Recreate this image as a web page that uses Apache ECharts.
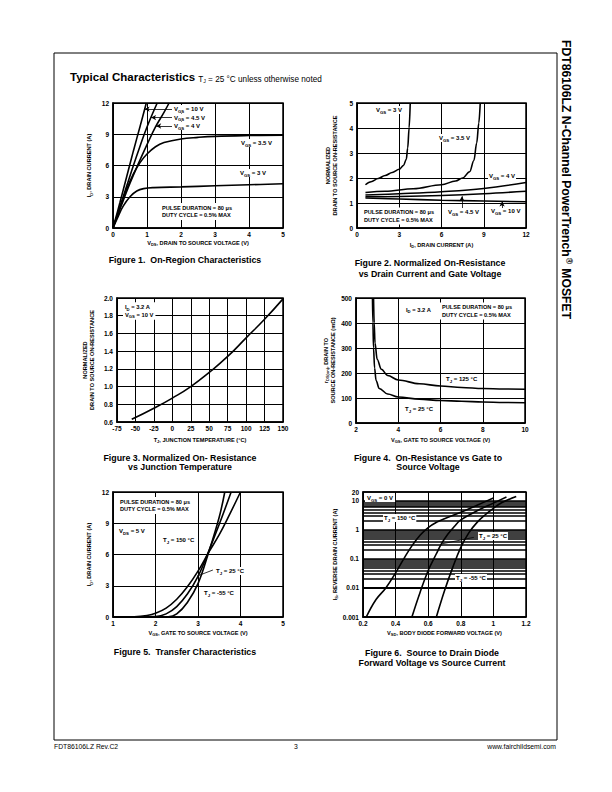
<!DOCTYPE html>
<html><head><meta charset="utf-8">
<script src="https://cdn.jsdelivr.net/npm/echarts@6/dist/echarts.min.js"></script>
<style>html,body{margin:0;padding:0;background:#fff}#c{width:612px;height:792px}</style>
</head><body><div id="c"></div>
<script>
// ---------- DATA ----------
// Figure 1: On-Region Characteristics (VDS [V], ID [A])
const fig1Vgs10 = [[0,0],[0.2,2.4],[0.4,4.9],[0.6,7.4],[0.8,9.8],[0.98,12]];
const fig1Vgs45 = [[0,0],[0.2,2.0],[0.4,4.0],[0.6,6.0],[0.8,7.9],[1.0,9.7],[1.3,12]];
const fig1Vgs4  = [[0,0],[0.25,2.2],[0.5,4.3],[0.75,6.2],[1.0,8.0],[1.25,9.7],[1.5,11.1],[1.65,12]];
const fig1Vgs35 = [[0,0],[0.2,1.9],[0.4,3.7],[0.6,5.2],[0.8,6.3],[1.0,7.1],[1.25,7.8],[1.5,8.2],[2,8.55],[2.5,8.7],[3,8.8],[4,8.88],[5,8.92]];
const fig1Vgs3  = [[0,0],[0.15,1.1],[0.3,2.1],[0.5,3.0],[0.7,3.55],[0.9,3.78],[1.2,3.88],[2,3.95],[3,4.05],[4,4.15],[5,4.25]];
// Figure 2: Normalized On-Resistance vs ID
const fig2Vgs3  = [[0.6,1.73],[1,1.85],[1.5,1.98],[2,2.1],[2.5,2.22],[3,2.35],[3.3,2.5],[3.5,2.75],[3.6,3.2],[3.7,4.0],[3.78,5]];
const fig2Vgs35 = [[0.6,1.42],[2,1.47],[4,1.57],[6,1.73],[7,1.88],[7.5,2.0],[8,2.25],[8.3,2.7],[8.5,3.4],[8.65,4.2],[8.75,5]];
const fig2Vgs4  = [[0.6,1.32],[3,1.37],[6,1.45],[9,1.58],[12,1.82]];
const fig2Vgs45 = [[0.6,1.25],[3,1.26],[6,1.3],[9,1.37],[12,1.47]];
const fig2Vgs10 = [[0.6,1.2],[3,1.16],[6,1.11],[9,1.08],[12,1.05]];
// Figure 3: Normalized On-Resistance vs TJ
const fig3Curve = [[-55,0.63],[-25,0.755],[0,0.87],[25,1.0],[50,1.16],[75,1.34],[100,1.55],[125,1.76],[150,1.99]];
// Figure 4: rDS(on) [mOhm] vs VGS
const fig4Tj125 = [[2.83,500],[2.86,400],[2.9,320],[3.0,255],[3.2,215],[3.5,190],[4,172],[5,157],[6,148],[7,142],[8,138],[9,136],[10,135]];
const fig4Tj25  = [[2.78,500],[2.8,400],[2.83,300],[2.88,220],[2.95,170],[3.1,138],[3.5,116],[4,104],[5,95],[6,90],[7,87],[8,84],[9,82],[10,81]];
// Figure 5: Transfer characteristics
const fig5Tj150 = [[1,0],[1.5,0.03],[1.8,0.15],[2,0.35],[2.25,0.85],[2.5,1.7],[2.75,2.9],[3,4.4],[3.25,6.2],[3.5,7.9],[3.75,9.9],[4.0,12]];
const fig5Tj25  = [[1,0],[2,0.05],[2.25,0.3],[2.5,1.0],[2.75,2.2],[3,3.9],[3.25,6.3],[3.5,8.9],[3.78,12]];
const fig5TjM55 = [[1,0],[2.3,0.03],[2.5,0.3],[2.75,1.4],[3,3.2],[3.25,6.2],[3.5,9.6],[3.63,12]];
// Figure 6: Body diode forward voltage
const fig6Tj150 = [[0.22,0.001],[0.28,0.004],[0.34,0.01],[0.4,0.033],[0.45,0.1],[0.5,0.28],[0.55,0.65],[0.6,1.2],[0.65,1.8],[0.7,2.4],[0.8,4],[0.9,7],[1.0,12.5]];
const fig6Tj25  = [[0.5,0.001],[0.55,0.007],[0.6,0.04],[0.65,0.15],[0.68,0.32],[0.72,0.7],[0.76,1.3],[0.8,2.2],[0.9,4.5],[1.0,8.3],[1.08,13.5]];
const fig6TjM55 = [[0.65,0.001],[0.7,0.008],[0.75,0.05],[0.8,0.25],[0.85,0.8],[0.9,1.8],[0.95,3.3],[1.0,5.5],[1.05,8.5],[1.14,14]];
const fig6YTicks = [0.001,0.01,0.1,1,10,20];
const fig6YTickText = ['0.001','0.01','0.1','1','10','20'];
const fig6MinorGrid = [0.002,0.003,0.004,0.005,0.006,0.007,0.008,0.009,0.02,0.03,0.04,0.05,0.06,0.07,0.08,0.09,0.2,0.3,0.4,0.5,0.6,0.7,0.8,0.9,2,3,4,5,6,7,8,9];

// ---------- STYLE HELPERS ----------
const F = '"Liberation Sans", Arial, Helvetica, sans-serif';
function rich(fs){
  return {
    n:{fontSize:fs, fontWeight:'bold', fontFamily:F, color:'#000', lineHeight:fs+2},
    s:{fontSize:Math.round(fs*0.72*10)/10, fontWeight:'bold', fontFamily:F, color:'#000', lineHeight:fs*0.72, verticalAlign:'bottom'}
  };
}
function sb(m, s, r){ return '{n|'+m+'}{s|'+s+'}{n|'+r+'}'; }
function nn(t){ return '{n|'+t+'}'; }

const grids = [
  {left:113, top:103, width:170, height:125},
  {left:357, top:103, width:169, height:125},
  {left:117, top:298, width:166, height:124},
  {left:356, top:298, width:169, height:125},
  {left:113, top:492, width:170, height:125},
  {left:363, top:492, width:163, height:125}
].map(g => Object.assign({show:true, borderColor:'#000', borderWidth:1.5, backgroundColor:'transparent', outerBoundsMode:'none'}, g));

function ax(gi, min, max, interval, name, gap, isY, extra){
  const o = {
    type:'value', gridIndex:gi, min, max, interval,
    name, nameLocation:'middle', nameGap:gap,
    nameTextStyle:{rich:rich(5.6), fontSize:5.6, fontWeight:'bold', fontFamily:F, color:'#000', lineHeight:7.5},
    axisLine:{show:true, onZero:false, lineStyle:{color:'#000', width:1.5}},
    axisTick:{show:false},
    axisLabel:{show:true, fontSize:6.5, fontWeight:'bold', fontFamily:F, color:'#000', margin:isY?4:3, showMinLabel:true, showMaxLabel:true},
    splitLine:{show:true, lineStyle:{color:'#000', width:1}},
    silent:true
  };
  if (isY) o.nameRotate = 90;
  return Object.assign(o, extra||{});
}

const xAxes = [
  ax(0,0,5,1, sb('V','DS',', DRAIN TO SOURCE VOLTAGE (V)'), 11, false),
  ax(1,0,12,3, sb('I','D',', DRAIN CURRENT (A)'), 13, false),
  ax(2,-75,150,25, sb('T','J',', JUNCTION TEMPERATURE (°C)'), 14, false),
  ax(3,2,10,2, sb('V','GS',', GATE TO SOURCE VOLTAGE (V)'), 13, false),
  ax(4,1,5,1, sb('V','GS',', GATE TO SOURCE VOLTAGE (V)'), 12, false),
  ax(5,0.2,1.2,0.2, sb('V','SD',', BODY DIODE FORWARD VOLTAGE (V)'), 12, false,
     {axisLabel:{show:true, fontSize:6.5, fontWeight:'bold', fontFamily:F, color:'#000', margin:3, showMinLabel:true, showMaxLabel:true, formatter:v=>String(Math.round(v*10)/10)}})
];
const yAxes = [
  ax(0,0,12,3, sb('I','D',', DRAIN CURRENT (A)'), 20, true),
  ax(1,0,5,1, nn('NORMALIZED')+'\n'+nn('DRAIN TO SOURCE ON-RESISTANCE'), 18, true),
  ax(2,0.6,2.0,0.2, nn('NORMALIZED')+'\n'+nn('DRAIN TO SOURCE ON-RESISTANCE'), 21, true,
     {axisLabel:{show:true, fontSize:6.5, fontWeight:'bold', fontFamily:F, color:'#000', margin:4, showMinLabel:true, showMaxLabel:true, formatter:v=>v.toFixed(1)}}),
  ax(3,0,500,100, sb('r','DS(on)',', DRAIN TO')+'\n'+nn('SOURCE ON-RESISTANCE (mΩ)'), 16, true),
  ax(4,0,12,3, sb('I','D',', DRAIN CURRENT (A)'), 20, true),
  ax(5,0.001,20,null, sb('I','S',', REVERSE DRAIN CURRENT (A)'), 22, true, {
     type:'log', logBase:10, interval:undefined,
     axisLabel:{show:true, fontSize:6.5, fontWeight:'bold', fontFamily:F, color:'#000', margin:4,
       customValues:fig6YTicks,
       formatter:function(v){ const i = fig6YTicks.findIndex(t => Math.abs(Math.log10(t)-Math.log10(v))<1e-6); return i>=0 ? fig6YTickText[i] : ''; }},
     splitLine:{show:true, lineStyle:{color:'#000', width:1.5}}
  })
];

function line(gi, data, extra){
  return Object.assign({type:'line', xAxisIndex:gi, yAxisIndex:gi, data, showSymbol:false, symbol:'none',
    smooth:0.4, lineStyle:{color:'#000', width:1.6}, itemStyle:{color:'#000'},
    silent:true, z:3, animation:false, emphasis:{disabled:true}}, extra||{});
}
const MONO = {smooth:0.35, smoothMonotone:'x'};
function arrows(pairs, withHead){
  return {silent:true, animation:false, z:4, symbol: withHead ? ['none','arrow'] : ['none','none'], symbolSize:[4,5],
    label:{show:false}, emphasis:{disabled:true},
    lineStyle:{color:'#000', width:0.8, type:'solid'},
    data: pairs.map(p => [{coord:p[0]},{coord:p[1]}])};
}

const series = [
  line(0, fig1Vgs10, {markLine: arrows([[[1.735,11.42],[0.93,11.42]],[[1.735,10.6],[1.12,10.6]],[[1.735,9.79],[1.27,9.79]]], true)}),
  line(0, fig1Vgs45), line(0, fig1Vgs4), line(0, fig1Vgs35), line(0, fig1Vgs3),
  line(1, fig2Vgs3, MONO), line(1, fig2Vgs35, MONO), line(1, fig2Vgs4), line(1, fig2Vgs45),
  line(1, fig2Vgs10, {markLine: arrows([[[7.45,0.8],[7.45,1.27]],[[10.3,0.8],[10.3,1.06]]], true)}),
  line(2, fig3Curve, {smooth:0.5}),
  line(3, fig4Tj125, MONO), line(3, fig4Tj25, MONO),
  line(4, fig5Tj150), line(4, fig5Tj25, {markLine: arrows([[[3.35,4.51],[2.98,3.93]]], false)}), line(4, fig5TjM55),
  // minor log grid of figure 6 (drawn beneath the labels)
  line(5, [], {z:1, markLine:{z:1, silent:true, animation:false, symbol:['none','none'], label:{show:false}, emphasis:{disabled:true},
     lineStyle:{color:'#000', width:1.5, type:'solid'}, data: fig6MinorGrid.map(v=>({yAxis:v}))}}),
  line(5, fig6Tj150),
  line(5, fig6Tj25, {markLine: arrows([[[0.88,0.55],[0.685,0.33]]], false)}),
  line(5, fig6TjM55)
];

// ---------- TEXT ----------
function T(x, y, text, fs, o){
  o = o || {};
  const st = {text, rich:rich(fs), fill:'#000', fontSize:fs, fontWeight:o.w||'bold', fontFamily:F,
    align:o.align||'left', verticalAlign:'middle'};
  if (o.bg) { st.backgroundColor = '#fff'; st.padding = o.pad || [1,2]; }
  const e = {type:'text', x, y, z:o.z||2, silent:true, style:st};
  return e;
}
const g = [];
// page frame, title, side text, footer
g.push({type:'rect', shape:{x:54, y:53, width:503, height:687}, style:{fill:'none', stroke:'#000', lineWidth:1}, silent:true, z:0});
g.push({type:'text', x:70, y:77, silent:true, z:2, style:{
  text:'{t|Typical Characteristics }{a|T}{b|J}{a| = 25 °C unless otherwise noted}', align:'left', verticalAlign:'middle',
  rich:{
    t:{fontSize:11.5, fontWeight:'bold', fontFamily:F, color:'#000', lineHeight:13},
    a:{fontSize:8.2, fontFamily:F, color:'#000', lineHeight:13, verticalAlign:'bottom'},
    b:{fontSize:5.2, fontFamily:F, color:'#000', lineHeight:5, verticalAlign:'bottom'}
  }}});
g.push({type:'text', x:566, y:40, rotation:-Math.PI/2, silent:true, z:2,
  style:{text:'{m|FDT86106LZ N-Channel PowerTrench}{r|®}{m| MOSFET}', align:'left', verticalAlign:'middle',
    rich:{m:{fontSize:12.2, fontWeight:'bold', fontFamily:F, color:'#000', lineHeight:14},
          r:{fontSize:8.5, fontWeight:'bold', fontFamily:F, color:'#000', verticalAlign:'top', lineHeight:14, padding:[0,1,0,1]}}}});
const foot = (x,t,al) => g.push({type:'text', x, y:746, silent:true, z:2, style:{text:t, fill:'#000', fontSize:6.8, fontFamily:F, align:al, verticalAlign:'middle'}});
foot(54, 'FDT86106LZ Rev.C2', 'left');
foot(296, '3', 'center');
foot(556, 'www.fairchildsemi.com', 'right');

// Figure 1 annotations
g.push(T(173, 109, sb('V','GS',' = 10 V'), 6, {bg:true, pad:[0,1]}));
g.push(T(173, 117.5, sb('V','GS',' = 4.5 V'), 6, {bg:true, pad:[0,1]}));
g.push(T(173, 126, sb('V','GS',' = 4 V'), 6, {bg:true, pad:[0,1]}));
g.push(T(240, 143, sb('V','GS',' = 3.5 V'), 6, {bg:true, pad:[0,1]}));
g.push(T(239, 173, sb('V','GS',' = 3 V'), 6, {bg:true, pad:[0,1]}));
g.push(T(160, 211.5, nn('PULSE DURATION = 80 μs')+'\n'+nn('DUTY CYCLE = 0.5% MAX'), 5.6, {bg:true, pad:[1,2]}));
// Figure 2 annotations
g.push(T(375, 110, sb('V','GS',' = 3 V'), 6, {bg:true, pad:[0,1]}));
g.push(T(438, 138, sb('V','GS',' = 3.5 V'), 6, {bg:true, pad:[0,1]}));
g.push(T(488, 176, sb('V','GS',' = 4 V'), 6, {bg:true, pad:[0,1]}));
g.push(T(362, 216, nn('PULSE DURATION = 80 μs')+'\n'+nn('DUTY CYCLE = 0.5% MAX'), 5.6, {bg:true, pad:[1,2]}));
g.push(T(447, 212, sb('V','GS',' = 4.5 V'), 6, {bg:true, pad:[0,1]}));
g.push(T(490, 211, sb('V','GS',' = 10 V'), 6, {bg:true, pad:[0,1]}));
// Figure 3 annotations
g.push(T(123, 311, sb('I','D',' = 3.2 A')+'\n'+sb('V','GS',' = 10 V'), 5.8, {bg:true, pad:[1,2]}));
// Figure 4 annotations
g.push(T(405, 310, sb('I','D',' = 3.2 A'), 5.8, {bg:true, pad:[0,1]}));
g.push(T(440, 311, nn('PULSE DURATION = 80 μs')+'\n'+nn('DUTY CYCLE = 0.5% MAX'), 5.6, {bg:true, pad:[1,2]}));
g.push(T(445, 379, sb('T','J',' = 125 °C'), 6, {bg:true, pad:[0,1]}));
g.push(T(404, 409, sb('T','J',' = 25 °C'), 6, {bg:true, pad:[0,1]}));
// Figure 5 annotations
g.push(T(118, 505.5, nn('PULSE DURATION = 80 μs')+'\n'+nn('DUTY CYCLE = 0.5% MAX'), 5.6, {bg:true, pad:[1,2]}));
g.push(T(118, 531, sb('V','DS',' = 5 V'), 6, {bg:true, pad:[0,1]}));
g.push(T(162, 540, sb('T','J',' = 150 °C'), 6, {bg:true, pad:[0,1]}));
g.push(T(215, 571, sb('T','J',' = 25 °C'), 6, {bg:true, pad:[0,1]}));
g.push(T(203, 593, sb('T','J',' = -55 °C'), 6, {bg:true, pad:[0,1]}));
// Figure 6 annotations
g.push(T(365, 498, sb('V','GS',' = 0 V'), 6, {bg:true, pad:[0,2]}));
g.push(T(383, 518, sb('T','J',' = 150 °C'), 6, {bg:true, pad:[0,1]}));
g.push(T(478, 536, sb('T','J',' = 25 °C'), 6, {bg:true, pad:[0,1]}));
g.push(T(455, 578, sb('T','J',' = -55 °C'), 6, {bg:true, pad:[0,1]}));
// Captions
const cap = (x,y,t) => g.push(T(x, y, nn(t), 8.8, {align:'center'}));
cap(185, 260, 'Figure 1.  On-Region Characteristics');
cap(430, 263, 'Figure 2. Normalized On-Resistance');
cap(430, 274, 'vs Drain Current and Gate Voltage');
cap(180, 457.5, 'Figure 3. Normalized On- Resistance');
cap(180, 467, 'vs Junction Temperature');
cap(428, 458, 'Figure 4.  On-Resistance vs Gate to');
cap(428, 467, 'Source Voltage');
cap(185, 652, 'Figure 5.  Transfer Characteristics');
cap(432, 653, 'Figure 6.  Source to Drain Diode');
cap(432, 663, 'Forward Voltage vs Source Current');

const chart = echarts.init(document.getElementById('c'), null, {renderer:'svg', width:612, height:792});
chart.setOption({
  animation:false,
  backgroundColor:'#fff',
  grid:grids, xAxis:xAxes, yAxis:yAxes, series, graphic:g
});
</script></body></html>
